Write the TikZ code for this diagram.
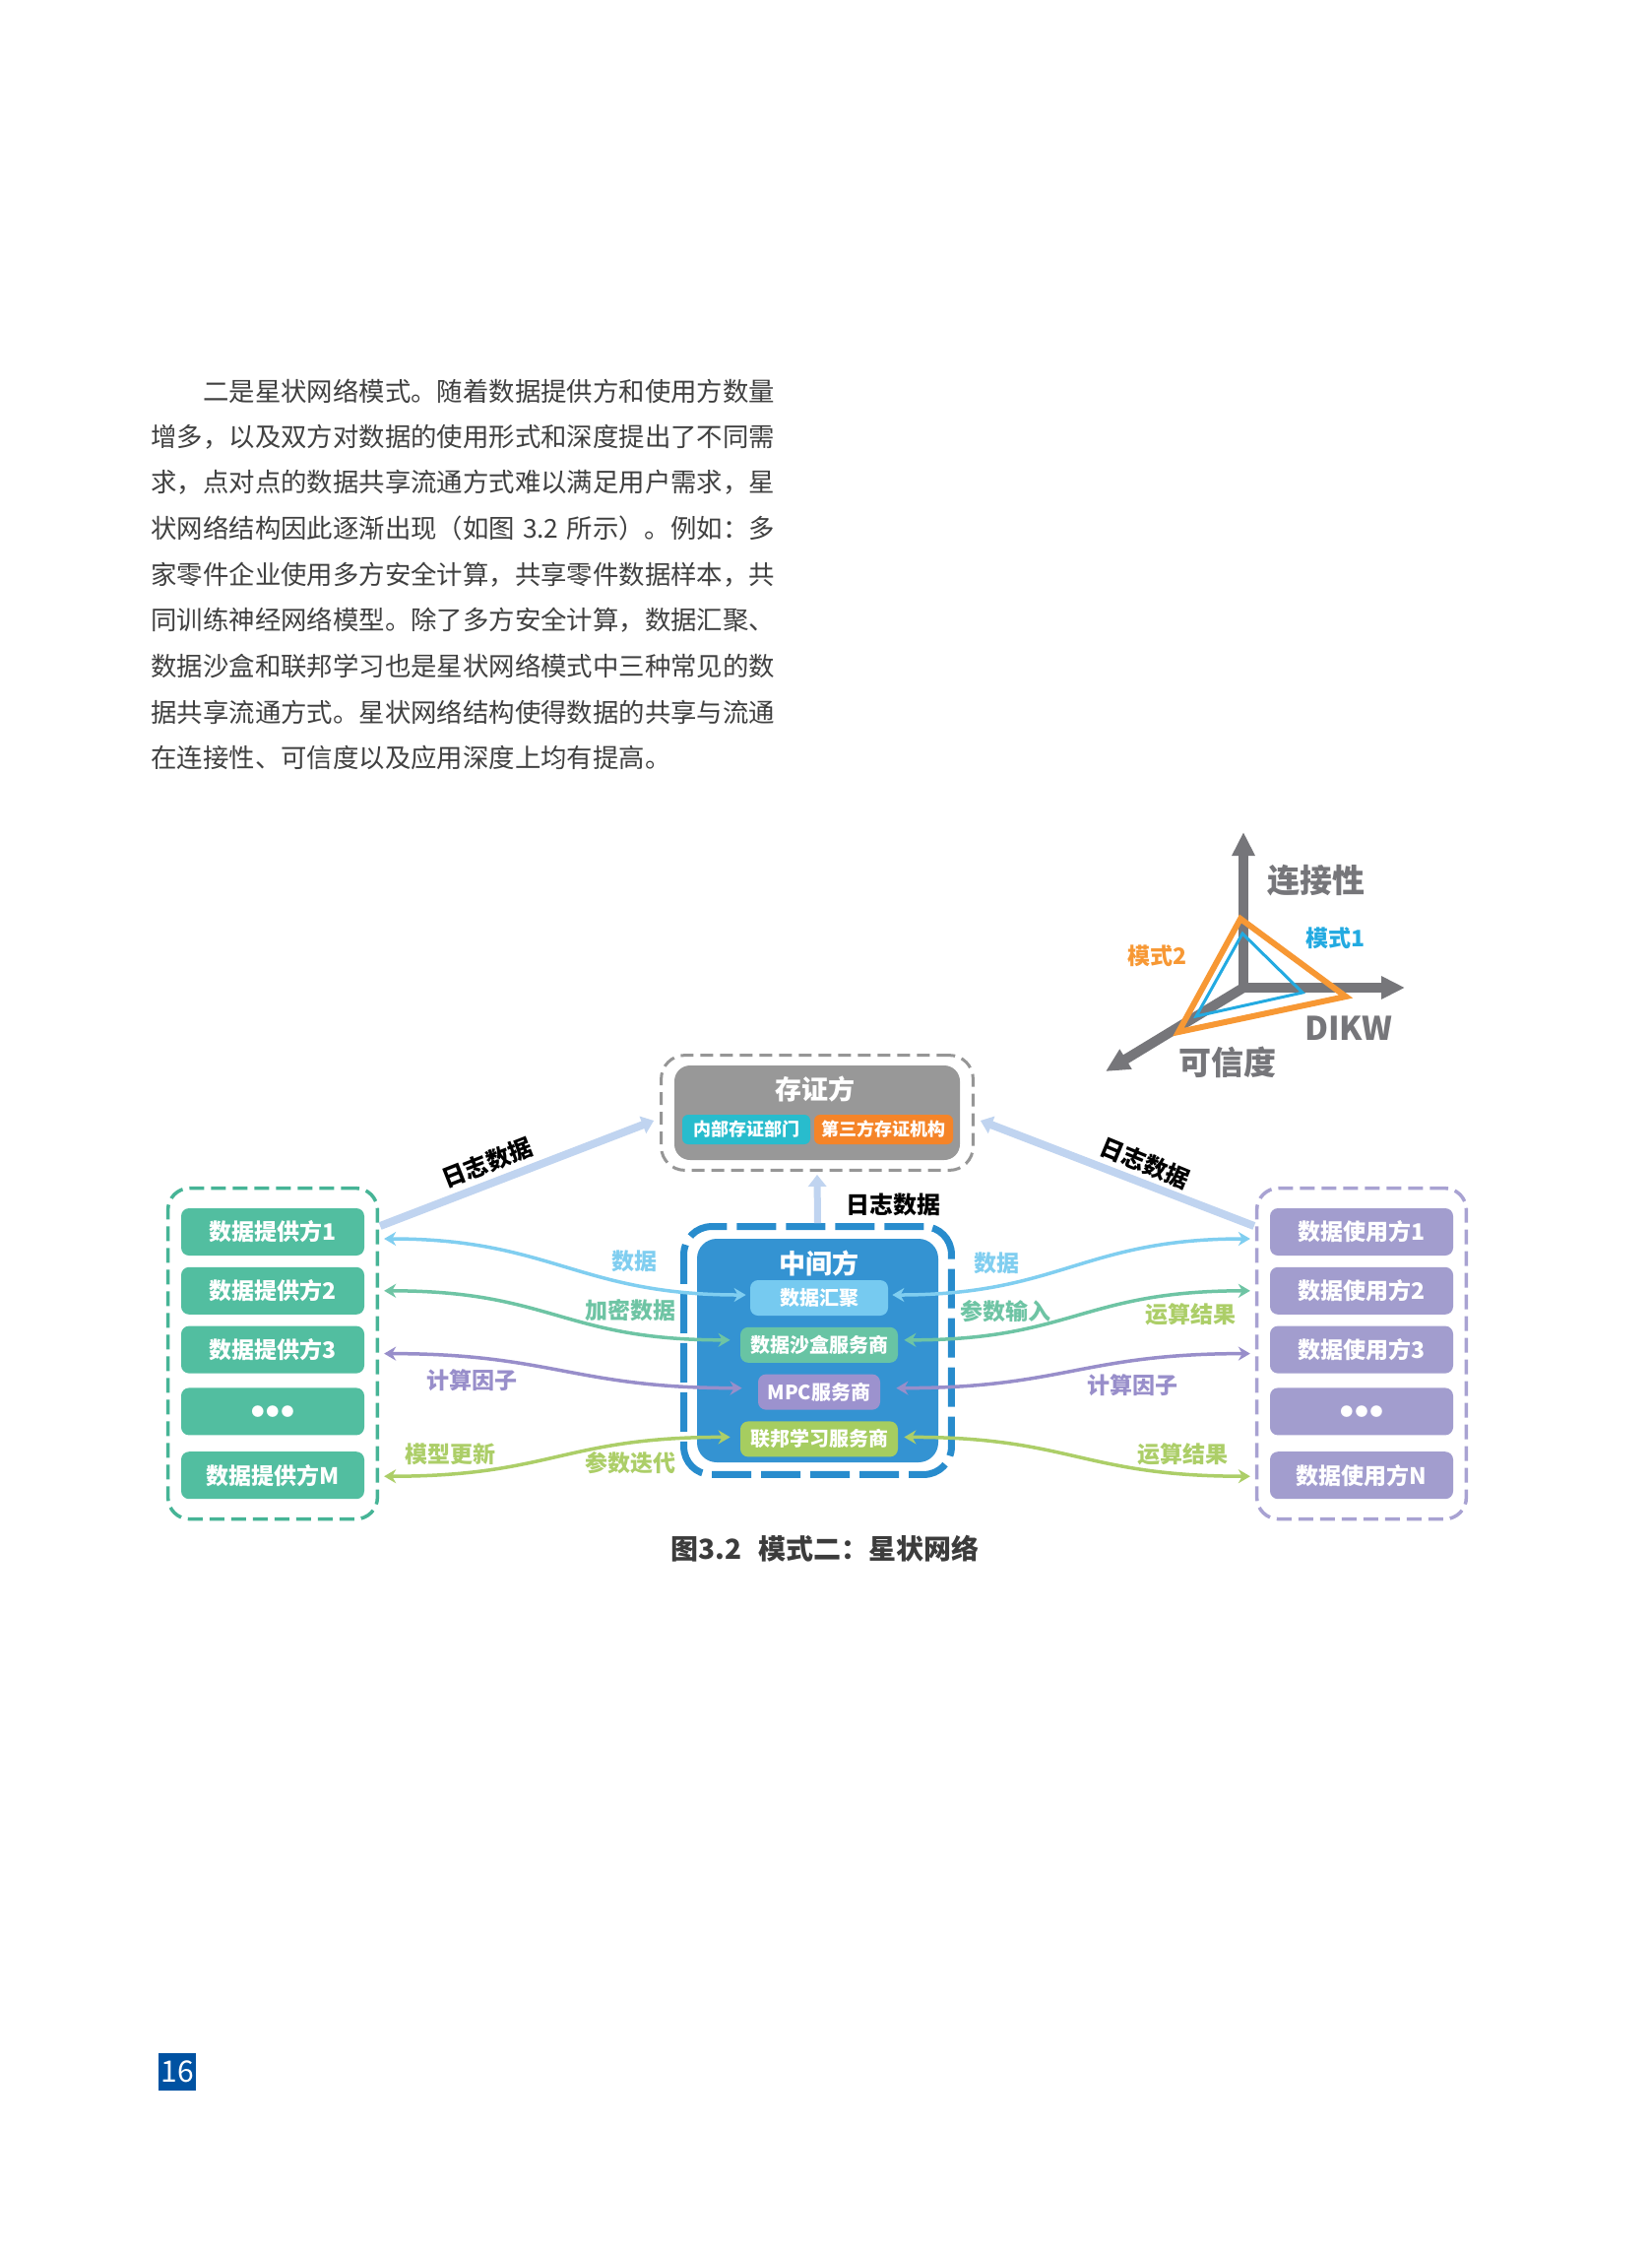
\documentclass[tikz,border=0pt]{standalone}
\usepackage{fontspec}
\setmainfont{Noto Sans CJK SC}
\usepackage{tikz}
\usetikzlibrary{arrows.meta,positioning,fit,calc}
\definecolor{bodyGray}{RGB}{64,64,64}
\definecolor{capGray}{RGB}{60,60,60}
\definecolor{axisGray}{RGB}{118,118,122}
\definecolor{modeOrange}{RGB}{247,152,52}
\definecolor{modeBlue}{RGB}{35,170,225}
\definecolor{provTeal}{RGB}{82,190,160}
\definecolor{provDash}{RGB}{70,180,150}
\definecolor{userPurple}{RGB}{162,157,206}
\definecolor{userDash}{RGB}{168,162,210}
\definecolor{midBlue}{RGB}{52,147,210}
\definecolor{midDash}{RGB}{40,140,205}
\definecolor{evidGray}{RGB}{152,152,152}
\definecolor{evidDash}{RGB}{150,150,150}
\definecolor{evidCyan}{RGB}{40,188,205}
\definecolor{evidOrange}{RGB}{245,132,40}
\definecolor{aggBlue}{RGB}{118,202,240}
\definecolor{boxGreen}{RGB}{104,196,164}
\definecolor{boxPurple}{RGB}{156,146,206}
\definecolor{boxLime}{RGB}{166,205,96}
\definecolor{lnBlue}{RGB}{128,206,240}
\definecolor{lnGreen}{RGB}{110,196,164}
\definecolor{lnPurple}{RGB}{152,142,202}
\definecolor{lnLime}{RGB}{172,206,104}
\definecolor{logBlue}{RGB}{192,212,240}
\definecolor{pageBlue}{RGB}{0,82,162}
\tikzset{
  para/.style={anchor=west,inner sep=0pt,font=\fontsize{13.2}{13.2}\selectfont,text=bodyGray},
  member/.style={rounded corners=4pt,minimum width=93pt,minimum height=24pt,inner sep=0pt,
                 text=white,font=\fontsize{11.5}{11.5}\selectfont\bfseries},
  prov/.style={member,fill=provTeal},
  user/.style={member,fill=userPurple},
  dots/.style={font=\fontsize{6.5}{6.5}\selectfont},
  grp/.style={rounded corners=11pt,line width=1.75pt,dash pattern=on 7.5pt off 3.5pt,
              inner xsep=6.5pt,inner ysep=10pt},
  svc/.style={rounded corners=4pt,minimum height=18pt,inner sep=0pt,text=white,
              font=\fontsize{10}{10}\selectfont\bfseries},
  evsub/.style={rounded corners=3pt,minimum height=15pt,inner sep=0pt,text=white,
                font=\fontsize{9}{9}\selectfont\bfseries},
  ttl/.style={text=white,inner sep=0pt,font=\fontsize{13.5}{13.5}\selectfont\bfseries},
  flow/.style={line width=1.75pt,{Stealth[length=6pt,width=7pt]}-{Stealth[length=6pt,width=7pt]}},
  flowlbl/.style={font=\fontsize{11.5}{11.5}\selectfont\bfseries,inner sep=0pt},
  logarr/.style={logBlue,line width=4pt,-{Triangle[length=6pt,width=9pt]}},
  loglbl/.style={font=\fontsize{12}{12}\selectfont\bfseries,text=black,inner sep=0pt},
  axis/.style={axisGray,line width=5pt,-{Triangle[length=12pt,width=11pt]}},
  axlbl/.style={font=\fontsize{16.5}{16.5}\selectfont\bfseries,text=axisGray,inner sep=0pt},
  modelbl/.style={font=\fontsize{11.5}{11.5}\selectfont\bfseries,inner sep=0pt},
}

\begin{document}
\begin{tikzpicture}[x=0.5pt,y=-0.5pt,node distance=5.5pt]
  \fill[white] (0,0) rectangle (1677,2291);
  \useasboundingbox (0,0) rectangle (1677,2291);

  % body text
  \foreach \t [count=\i from 0] in {
      {\hspace*{2em}二是星状网络模式。随着数据提供方和使用方数量},
      {增多，以及双方对数据的使用形式和深度提出了不同需},
      {求，点对点的数据共享流通方式难以满足用户需求，星},
      {状网络结构因此逐渐出现（如图\hspace{4pt}3.2\hspace{4pt}所示）。例如：多},
      {家零件企业使用多方安全计算，共享零件数据样本，共},
      {同训练神经网络模型。除了多方安全计算，数据汇聚、},
      {数据沙盒和联邦学习也是星状网络模式中三种常见的数},
      {据共享流通方式。星状网络结构使得数据的共享与流通},
      {在连接性、可信度以及应用深度上均有提高。}}
    \node[para] (txt\i) at (153,397+46.6*\i) {\t};

  % three axes
  \coordinate (ax0) at (1263,1003);
  \coordinate (axUp) at (1263,845);
  \coordinate (axRight) at (1427,1003);
  \coordinate (axDown) at (1123,1088);
  \draw[axis] ($(ax0)+(0,5)$) -- (axUp);
  \draw[axis] ($(ax0)+(-5,0)$) -- (axRight);
  \draw[axis] (ax0) -- (axDown);
  \draw[modeOrange,line width=3pt,line join=miter] (1260,933) -- (1367,1012) -- (1197,1048) -- cycle;
  \draw[modeBlue,line width=1.5pt,line join=miter] (1262,948) -- (1323,1008) -- (1215,1032) -- cycle;
  \node[axlbl] (conn) at (1337,894) {连接性};
  \node[axlbl] (dikw) at (1370,1044) {DIKW};
  \node[axlbl] (trust) at (1247,1079) {可信度};
  \node[modelbl,text=modeOrange] (mode2) at (1175,971) {模式2};
  \node[modelbl,text=modeBlue] (mode1) at (1356,953) {模式1};

  % evidence party
  \node[fill=evidGray,rounded corners=8pt,minimum width=145pt,minimum height=48pt] (evid) at (830,1130) {};
  \node[ttl] (evidttl) at (828,1106) {存证方};
  \node[evsub,fill=evidCyan,minimum width=65pt] (evin) at (758,1147) {内部存证部门};
  \node[evsub,fill=evidOrange,minimum width=70.5pt] (evout) at (897.5,1147) {第三方存证机构};
  \node[draw=evidDash,rounded corners=12pt,line width=1.5pt,dash pattern=on 6.5pt off 3.5pt,
        inner xsep=6.5pt,inner ysep=5pt,fit=(evid)] (tgrp) {};

  % intermediary
  \node[fill=midBlue,rounded corners=10pt,minimum width=122.5pt,minimum height=113.5pt] (mid) at (830.5,1371.5) {};
  \node[ttl] (midttl) at (832,1283) {中间方};
  \node[svc,fill=aggBlue,minimum width=70pt] (agg) at (832,1318) {数据汇聚};
  \node[svc,fill=boxGreen,minimum width=80pt,below=of agg] (sbx) {数据沙盒服务商};
  \node[svc,fill=boxPurple,minimum width=62pt,below=of sbx] (mpc) {MPC服务商};
  \node[svc,fill=boxLime,minimum width=80pt,below=of mpc] (fed) {联邦学习服务商};
  \node[draw=midDash,rounded corners=14pt,line width=3.5pt,dash pattern=on 20pt off 5pt,
        inner xsep=6.5pt,inner ysep=6pt,fit=(mid)] (mgrp) {};

  % providers
  \node[prov] (lp1) at (277,1251) {数据提供方1};
  \node[prov,below=of lp1] (lp2) {数据提供方2};
  \node[prov,below=of lp2] (lp3) {数据提供方3};
  \node[prov,dots,below=7pt of lp3] (lp4) {●\,●\,●};
  \node[prov,below=8pt of lp4] (lp5) {数据提供方M};
  \node[grp,draw=provDash,fit=(lp1)(lp5)] (lgrp) {};

  % users
  \node[user] (rp1) at (1383,1251) {数据使用方1};
  \node[user,below=of rp1] (rp2) {数据使用方2};
  \node[user,below=of rp2] (rp3) {数据使用方3};
  \node[user,dots,below=7pt of rp3] (rp4) {●\,●\,●};
  \node[user,below=8pt of rp4] (rp5) {数据使用方N};
  \node[grp,draw=userDash,fit=(rp1)(rp5)] (rgrp) {};

  % log data
  \draw[logarr] ($(lgrp.east |- lp1)+(1,-6)$) -- ($(tgrp.west)+(-6,8)$);
  \draw[logarr] ($(rgrp.west |- rp1)+(-1,-6)$) -- ($(tgrp.east)+(6,8)$);
  \draw[logarr,line width=3.5pt] (mgrp.north) -- ($(tgrp.south)+(0,3)$);
  \node[loglbl,rotate=21.4] (loglbl1) at (495,1181) {日志数据};
  \node[loglbl,rotate=-22.4] (loglbl2) at (1163,1181) {日志数据};
  \node[loglbl] (loglbl3) at (907,1223) {日志数据};

  % flows to providers
  \coordinate (lin1) at ($(lgrp.east |- lp1)+(5,7)$);
  \coordinate (lin2) at ($(lgrp.east |- lp2)+(5,0)$);
  \coordinate (lin3) at ($(lgrp.east |- lp3)+(5,4)$);
  \coordinate (lin5) at ($(lgrp.east |- lp5)+(5,1)$);
  \draw[flow,lnBlue] (lin1) .. controls +(170,0) and +(-170,0) .. ($(agg.west)+(-4,-3)$);
  \draw[flow,lnGreen] (lin2) .. controls +(170,0) and +(-170,0) .. ($(sbx.west)+(-10,-5)$);
  \draw[flow,lnPurple] (lin3) .. controls +(170,0) and +(-170,0) .. ($(mpc.west)+(-16,-4)$);
  \draw[flow,lnLime] (lin5) .. controls +(170,0) and +(-170,0) .. ($(fed.west)+(-10,-2)$);
  \node[flowlbl,text=lnBlue] (ldata) at (644,1281) {数据};
  \node[flowlbl,text=lnGreen] (lenc) at (640,1331) {加密数据};
  \node[flowlbl,text=lnPurple] (lcalc) at (479,1402) {计算因子};
  \node[flowlbl,text=lnLime] (lupd) at (457,1477) {模型更新};
  \node[flowlbl,text=lnLime] (liter) at (640,1486) {参数迭代};

  % flows to users
  \coordinate (rin1) at ($(rgrp.west |- rp1)+(-5,7)$);
  \coordinate (rin2) at ($(rgrp.west |- rp2)+(-5,0)$);
  \coordinate (rin3) at ($(rgrp.west |- rp3)+(-5,4)$);
  \coordinate (rin5) at ($(rgrp.west |- rp5)+(-5,1)$);
  \draw[flow,lnBlue] ($(agg.east)+(4,-3)$) .. controls +(170,0) and +(-170,0) .. (rin1);
  \draw[flow,lnGreen] ($(sbx.east)+(6,-5)$) .. controls +(170,0) and +(-170,0) .. (rin2);
  \draw[flow,lnPurple] ($(mpc.east)+(16,-4)$) .. controls +(170,0) and +(-170,0) .. (rin3);
  \draw[flow,lnLime] ($(fed.east)+(6,-2)$) .. controls +(170,0) and +(-170,0) .. (rin5);
  \node[flowlbl,text=lnBlue] (rdata) at (1012,1283) {数据};
  \node[flowlbl,text=lnGreen] (rpar) at (1021,1332) {参数输入};
  \node[flowlbl,text=lnLime] (rres1) at (1209,1335) {运算结果};
  \node[flowlbl,text=lnPurple] (rcalc) at (1150,1407) {计算因子};
  \node[flowlbl,text=lnLime] (rres2) at (1201,1477) {运算结果};

  % caption and page number
  \node[font=\fontsize{14}{14}\selectfont\bfseries,text=capGray] (cap) at (838,1573) {图3.2\hspace{0.6em}模式二：星状网络};
  \node[fill=pageBlue,minimum width=19pt,minimum height=19pt,inner sep=0pt,text=white,
        font=\fontsize{15}{15}\selectfont] (pg) at (180,2104) {16};
\end{tikzpicture}
\end{document}
